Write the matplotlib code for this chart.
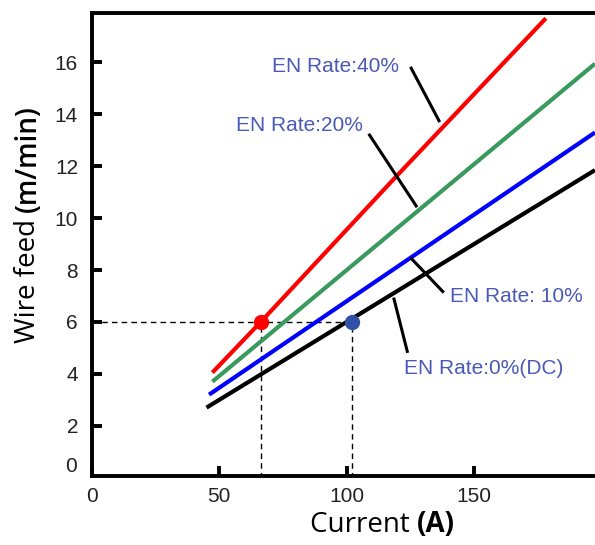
import matplotlib
matplotlib.use("Agg")
import matplotlib.pyplot as plt

plt.rcParams['font.family'] = ['Liberation Sans', 'DejaVu Sans']

# EN rate curves: current (A) vs wire feed (m/min)
x_40 = [47.3, 66.3, 118.5, 178.3]
y_40 = [4.05, 6.0, 11.5, 17.7]
x_20 = [47.3, 197.6]
y_20 = [3.7, 15.95]
x_10 = [46.0, 197.6]
y_10 = [3.2, 13.3]
x_0 = [45.0, 197.6]
y_0 = [2.7, 11.85]

# operating points at 6 m/min
pt_red = (66.3, 6.0)
pt_blue = (102.2, 6.0)

labels = ["EN Rate:40%", "EN Rate:20%", "EN Rate: 10%", "EN Rate:0%(DC)"]
label_xy = [(70.9, 15.83), (56.5, 13.57), (140.5, 7.0), (122.5, 4.19)]
leaders = [((125.1, 15.83), (136.6, 13.7)),
           ((108.7, 13.25), (127.7, 10.42)),
           ((125.1, 8.48), (138.2, 7.13)),
           ((118.5, 6.94), (124.0, 4.81))]

xticks = [0, 50, 100, 150]
yticks = [2, 4, 6, 8, 10, 12, 14, 16]

txt_col = "#4a58b8"

fig = plt.figure(figsize=(5.95, 5.45), dpi=100)
ax = fig.add_axes([0.1546, 0.1273, 0.8454, 0.8487])

ax.plot(x_40, y_40, color="#ff0000", lw=3.0, solid_capstyle="butt")
ax.plot(x_20, y_20, color="#3a9a5e", lw=3.0, solid_capstyle="butt")
ax.plot(x_10, y_10, color="#0000ff", lw=3.0, solid_capstyle="butt")
ax.plot(x_0, y_0, color="black", lw=3.0, solid_capstyle="butt")

# dashed guide lines
ax.plot([0, pt_blue[0]], [6, 6], color="black", lw=1.0, ls=(0, (4, 3)), zorder=1)
ax.plot([pt_red[0], pt_red[0]], [0, pt_red[1]], color="black", lw=1.0, ls=(0, (4, 3)), zorder=1)
ax.plot([pt_blue[0], pt_blue[0]], [0, pt_blue[1]], color="black", lw=1.0, ls=(0, (4, 3)), zorder=1)

ax.plot(*pt_red, "o", color="#ff0000", ms=10, zorder=5)
ax.plot(*pt_blue, "o", color="#3050a8", ms=10, zorder=5)

for lab, (tx, ty), (p0, p1) in zip(labels, label_xy, leaders):
    ax.text(tx, ty, lab, color=txt_col, fontsize=15, ha="left", va="center")
    ax.plot([p0[0], p1[0]], [p0[1], p1[1]], color="black", lw=2.2, solid_capstyle="butt")

ax.set_xlim(0, 197.6)
ax.set_ylim(0.08, 17.9)
ax.set_xticks(xticks)
ax.set_yticks(yticks)
ax.tick_params(direction="in", length=7, width=2.8, labelsize=15, pad=8, colors="black")
ax.tick_params(axis="y", pad=10, labelcolor="#222222")
ax.tick_params(axis="x", labelcolor="#222222")
ax.annotate("0", xy=(0, 0.45), xycoords=("axes fraction", "data"), xytext=(-11, 0),
            textcoords="offset points", ha="right", va="center", fontsize=15, color="#222222")

for s in ["left", "bottom", "top"]:
    ax.spines[s].set_linewidth(2.8)
ax.spines["right"].set_visible(False)

# axis titles with bold units
fig.text(0.70, 0.037, "Current ", fontsize=20, family="Open Sans", ha="right", va="center")
fig.text(0.70, 0.037, "(A)", fontsize=20, family="Open Sans", weight="bold", ha="left", va="center")
fig.text(0.047, 0.611, "Wire feed ", fontsize=20, family="Open Sans", rotation=90, ha="center", va="top")
fig.text(0.047, 0.611, "(m/min)", fontsize=20, family="Open Sans", weight="semibold", rotation=90, ha="center", va="bottom")

fig.savefig("out.png", dpi=100)
